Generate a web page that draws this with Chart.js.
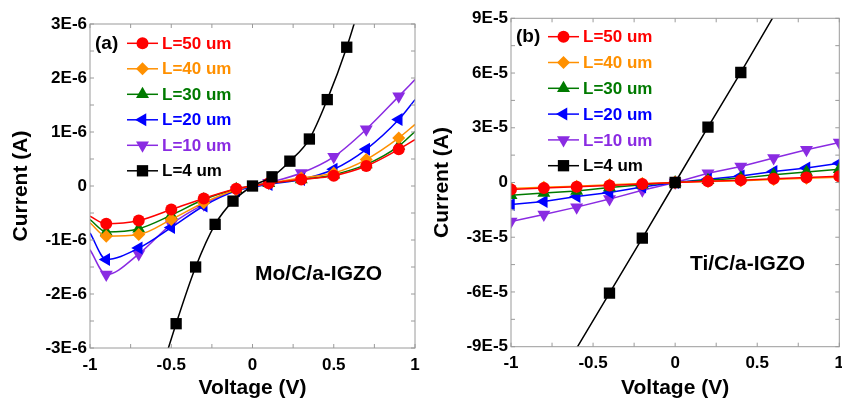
<!DOCTYPE html>
<html><head><meta charset="utf-8">
<script src="https://cdn.jsdelivr.net/npm/chart.js@4.4.1/dist/chart.umd.min.js"></script>
<style>
html,body{margin:0;padding:0;background:#fff;overflow:hidden;width:842px;height:401px;}
.p{position:absolute;top:0;height:401px;}
#wa{left:0;width:421px;}
#wb{left:421px;width:431px;}
</style></head><body>
<div class="p" id="wa"><canvas id="ca" width="421" height="401"></canvas></div>
<div class="p" id="wb"><canvas id="cb" width="431" height="401"></canvas></div>
<script>
// ---------- DATA ----------
const seriesLabels = ['L=50 um', 'L=40 um', 'L=30 um', 'L=20 um', 'L=10 um', 'L=4 um'];
const xTickLabels = ['-1', '-0.5', '0', '0.5', '1'];
const yTickLabelsA = ['-3E-6', '-2E-6', '-1E-6', '0', '1E-6', '2E-6', '3E-6'];
const yTickLabelsB = ['-9E-5', '-6E-5', '-3E-5', '0', '3E-5', '6E-5', '9E-5'];

// Panel (a) Mo/C/a-IGZO
const voltageA = [-1, -0.9, -0.7, -0.5, -0.3, -0.1, 0.1, 0.3, 0.5, 0.7, 0.9, 1];
const moL50 = [-0.56e-6, -0.70e-6, -0.64e-6, -0.435e-6, -0.23e-6, -0.05e-6, 0.05e-6, 0.12e-6, 0.19e-6, 0.37e-6, 0.68e-6, 0.86e-6];
const moL40 = [-0.68e-6, -0.93e-6, -0.90e-6, -0.62e-6, -0.31e-6, -0.07e-6, 0.05e-6, 0.15e-6, 0.24e-6, 0.49e-6, 0.89e-6, 1.14e-6];
const moL30 = [-0.62e-6, -0.85e-6, -0.79e-6, -0.54e-6, -0.25e-6, -0.06e-6, 0.05e-6, 0.12e-6, 0.21e-6, 0.40e-6, 0.74e-6, 1.01e-6];
const moL20 = [-0.87e-6, -1.36e-6, -1.15e-6, -0.77e-6, -0.37e-6, -0.09e-6, 0.03e-6, 0.12e-6, 0.31e-6, 0.68e-6, 1.23e-6, 1.60e-6];
const moL10 = [-1.18e-6, -1.64e-6, -1.26e-6, -0.71e-6, -0.34e-6, -0.08e-6, 0.06e-6, 0.24e-6, 0.54e-6, 1.05e-6, 1.66e-6, 1.97e-6];
const voltageA4 = [-0.6, -0.47, -0.35, -0.23, -0.12, 0, 0.12, 0.23, 0.35, 0.46, 0.58, 0.7];
const moL4 = [-3.8e-6, -2.55e-6, -1.50e-6, -0.71e-6, -0.28e-6, 0, 0.17e-6, 0.46e-6, 0.87e-6, 1.60e-6, 2.57e-6, 3.75e-6];

// Panel (b) Ti/C/a-IGZO
const voltageB = [-1, -0.8, -0.6, -0.4, -0.2, 0, 0.2, 0.4, 0.6, 0.8, 1];
const tiL50 = [-0.38e-5, -0.30e-5, -0.23e-5, -0.16e-5, -0.08e-5, 0, 0.07e-5, 0.13e-5, 0.20e-5, 0.27e-5, 0.34e-5];
const tiL40 = [-0.33e-5, -0.26e-5, -0.20e-5, -0.13e-5, -0.06e-5, 0, 0.05e-5, 0.10e-5, 0.17e-5, 0.23e-5, 0.29e-5];
const tiL30 = [-0.70e-5, -0.58e-5, -0.46e-5, -0.28e-5, -0.13e-5, 0, 0.12e-5, 0.24e-5, 0.42e-5, 0.58e-5, 0.73e-5];
const tiL20 = [-1.20e-5, -1.04e-5, -0.77e-5, -0.55e-5, -0.25e-5, 0, 0.18e-5, 0.35e-5, 0.60e-5, 0.80e-5, 1.05e-5];
const tiL10 = [-2.14e-5, -1.75e-5, -1.35e-5, -0.91e-5, -0.42e-5, 0, 0.51e-5, 0.88e-5, 1.34e-5, 1.79e-5, 2.19e-5];
const voltageB4 = [-0.8, -0.4, -0.2, 0, 0.2, 0.4, 0.8];
const tiL4 = [-12.1e-5, -6.06e-5, -3.05e-5, 0, 3.04e-5, 6.03e-5, 12.2e-5];

// ---------- STYLE ----------
const FONT = "'Liberation Sans', Arial, sans-serif";
const styles = [
  {color: '#ff0000', pointStyle: 'circle', rotation: 0, r: 6},
  {color: '#ff9000', pointStyle: 'rectRot', rotation: 0, r: 6.5},
  {color: '#007a00', pointStyle: 'triangle', rotation: 0, r: 7.5},
  {color: '#0000ff', pointStyle: 'triangle', rotation: -90, r: 7.5},
  {color: '#8a2be2', pointStyle: 'triangle', rotation: 180, r: 7.5},
  {color: '#000000', pointStyle: 'rect', rotation: 0, r: 8}
];

function pts(xs, ys) { return xs.map((x, i) => ({x: x, y: ys[i]})); }

function makeDatasets(xsList, ysList, markerFilter, smooth) {
  return ysList.map((ys, k) => {
    const st = styles[k];
    return {
      label: seriesLabels[k],
      data: pts(xsList[k], ys),
      borderColor: st.color,
      backgroundColor: st.color,
      borderWidth: 1.5,
      pointStyle: st.pointStyle,
      pointRotation: st.rotation,
      pointBorderWidth: 0,
      pointBackgroundColor: st.color,
      pointRadius: (ctx) => markerFilter(ctx, k) ? st.r : 0,
      cubicInterpolationMode: smooth ? 'monotone' : 'default',
      tension: 0,
      order: k === 5 ? -1 : 0
    };
  });
}

const framePlugin = {
  id: 'frame',
  afterDatasetsDraw(chart) {
    const o = chart.options.plugins.frame;
    const ctx = chart.ctx, a = chart.chartArea;
    const xs = chart.scales.x, ys = chart.scales.y;
    ctx.save();
    ctx.strokeStyle = '#9a9a9a';
    ctx.lineWidth = 1;
    ctx.strokeRect(a.left, a.top, a.right - a.left, a.bottom - a.top);
    ctx.beginPath();
    for (let v = -1; v <= 1.0001; v += 0.25) {
      const px = xs.getPixelForValue(v);
      ctx.moveTo(px, a.bottom); ctx.lineTo(px, a.bottom - 4);
      ctx.moveTo(px, a.top); ctx.lineTo(px, a.top + 4);
    }
    const step = o.yMinor;
    for (let i = -6; i <= 6; i++) {
      const py = ys.getPixelForValue(i * step);
      ctx.moveTo(a.left, py); ctx.lineTo(a.left + 4, py);
      ctx.moveTo(a.right, py); ctx.lineTo(a.right - 4, py);
    }
    ctx.stroke();

    // panel tag
    ctx.fillStyle = '#000';
    ctx.textBaseline = 'middle';
    ctx.textAlign = 'left';
    ctx.font = 'bold 19px ' + FONT;
    ctx.fillText(o.tag, a.left + 5, o.legendY0);

    // legend
    ctx.font = 'bold 17px ' + FONT;
    chart.data.datasets.forEach((ds, k) => {
      const st = styles[k];
      const y = o.legendY0 + k * o.legendDy;
      const x1 = a.left + 37, x2 = a.left + 68, xm = (x1 + x2) / 2;
      ctx.strokeStyle = st.color;
      ctx.lineWidth = 1.5;
      ctx.beginPath(); ctx.moveTo(x1, y); ctx.lineTo(x2, y); ctx.stroke();
      ctx.fillStyle = st.color;
      Chart.helpers.drawPoint(ctx, {pointStyle: st.pointStyle, rotation: st.rotation, radius: st.r, borderWidth: 0}, xm, y);
      ctx.fillStyle = st.color;
      ctx.fillText(ds.label, a.left + 72, y + 1);
    });

    // annotation
    ctx.fillStyle = '#000';
    ctx.font = 'bold 21px ' + FONT;
    ctx.fillText(o.note, a.left + o.noteDx, o.noteY);
    ctx.restore();
  }
};

function makeChart(id, datasets, cfg) {
  return new Chart(document.getElementById(id), {
    type: 'line',
    data: {datasets: datasets},
    plugins: [framePlugin],
    options: {
      responsive: false,
      animation: false,
      events: [],
      layout: {padding: {left: 0, right: cfg.padRight, top: cfg.padTop, bottom: 0}},
      plugins: {
        legend: {display: false},
        tooltip: {enabled: false},
        frame: cfg.frame
      },
      scales: {
        x: {
          type: 'linear', min: -1, max: 1,
          grid: {display: false, drawTicks: false, tickLength: 0},
          border: {display: false},
          ticks: {
            stepSize: 0.5, padding: 0, color: '#000',
            font: {family: FONT, size: 17, weight: 'bold', lineHeight: 2.0},
            callback: (v, i) => xTickLabels[i]
          },
          title: {display: true, text: 'Voltage (V)', color: '#000', padding: {top: 0, bottom: 0},
                  font: {family: FONT, size: 21, weight: 'bold'}},
          afterFit: (s) => { s.height = cfg.xAxisH; }
        },
        y: {
          type: 'linear', min: cfg.yMin, max: cfg.yMax,
          grid: {display: false, drawTicks: false, tickLength: 0},
          border: {display: false},
          ticks: {
            stepSize: cfg.yStep, padding: 3, color: '#000',
            font: {family: FONT, size: 17, weight: 'bold'},
            callback: (v, i) => cfg.yLabels[i]
          },
          title: {display: true, text: 'Current (A)', color: '#000', padding: {top: 9, bottom: 0},
                  font: {family: FONT, size: 21, weight: 'bold'}},
          afterFit: (s) => { s.width = 90; }
        }
      }
    }
  });
}

// panel (a)
const dsA = makeDatasets(
  [voltageA, voltageA, voltageA, voltageA, voltageA, voltageA4],
  [moL50, moL40, moL30, moL20, moL10, moL4],
  (ctx, k) => ctx.dataIndex > 0 && ctx.dataIndex < ctx.dataset.data.length - 1,
  true
);
makeChart('ca', dsA, {
  padRight: 6, padTop: 24, xAxisH: 53,
  yMin: -3e-6, yMax: 3e-6, yStep: 1e-6, yLabels: yTickLabelsA,
  frame: {yMinor: 0.5e-6, tag: '(a)', legendY0: 43.3, legendDy: 25.5, note: 'Mo/C/a-IGZO', noteDx: 165, noteY: 274}
});

// panel (b)
const dsB = makeDatasets(
  [voltageB, voltageB, voltageB, voltageB, voltageB, voltageB4],
  [tiL50, tiL40, tiL30, tiL20, tiL10, tiL4],
  (ctx, k) => k < 5 ? true : (ctx.dataIndex > 0 && ctx.dataIndex < ctx.dataset.data.length - 1),
  false
);
makeChart('cb', dsB, {
  padRight: 12.7, padTop: 18.3, xAxisH: 54.3,
  yMin: -9e-5, yMax: 9e-5, yStep: 3e-5, yLabels: yTickLabelsB,
  frame: {yMinor: 1.5e-5, tag: '(b)', legendY0: 36.7, legendDy: 25.8, note: 'Ti/C/a-IGZO', noteDx: 179, noteY: 264}
});
</script>
</body></html>
